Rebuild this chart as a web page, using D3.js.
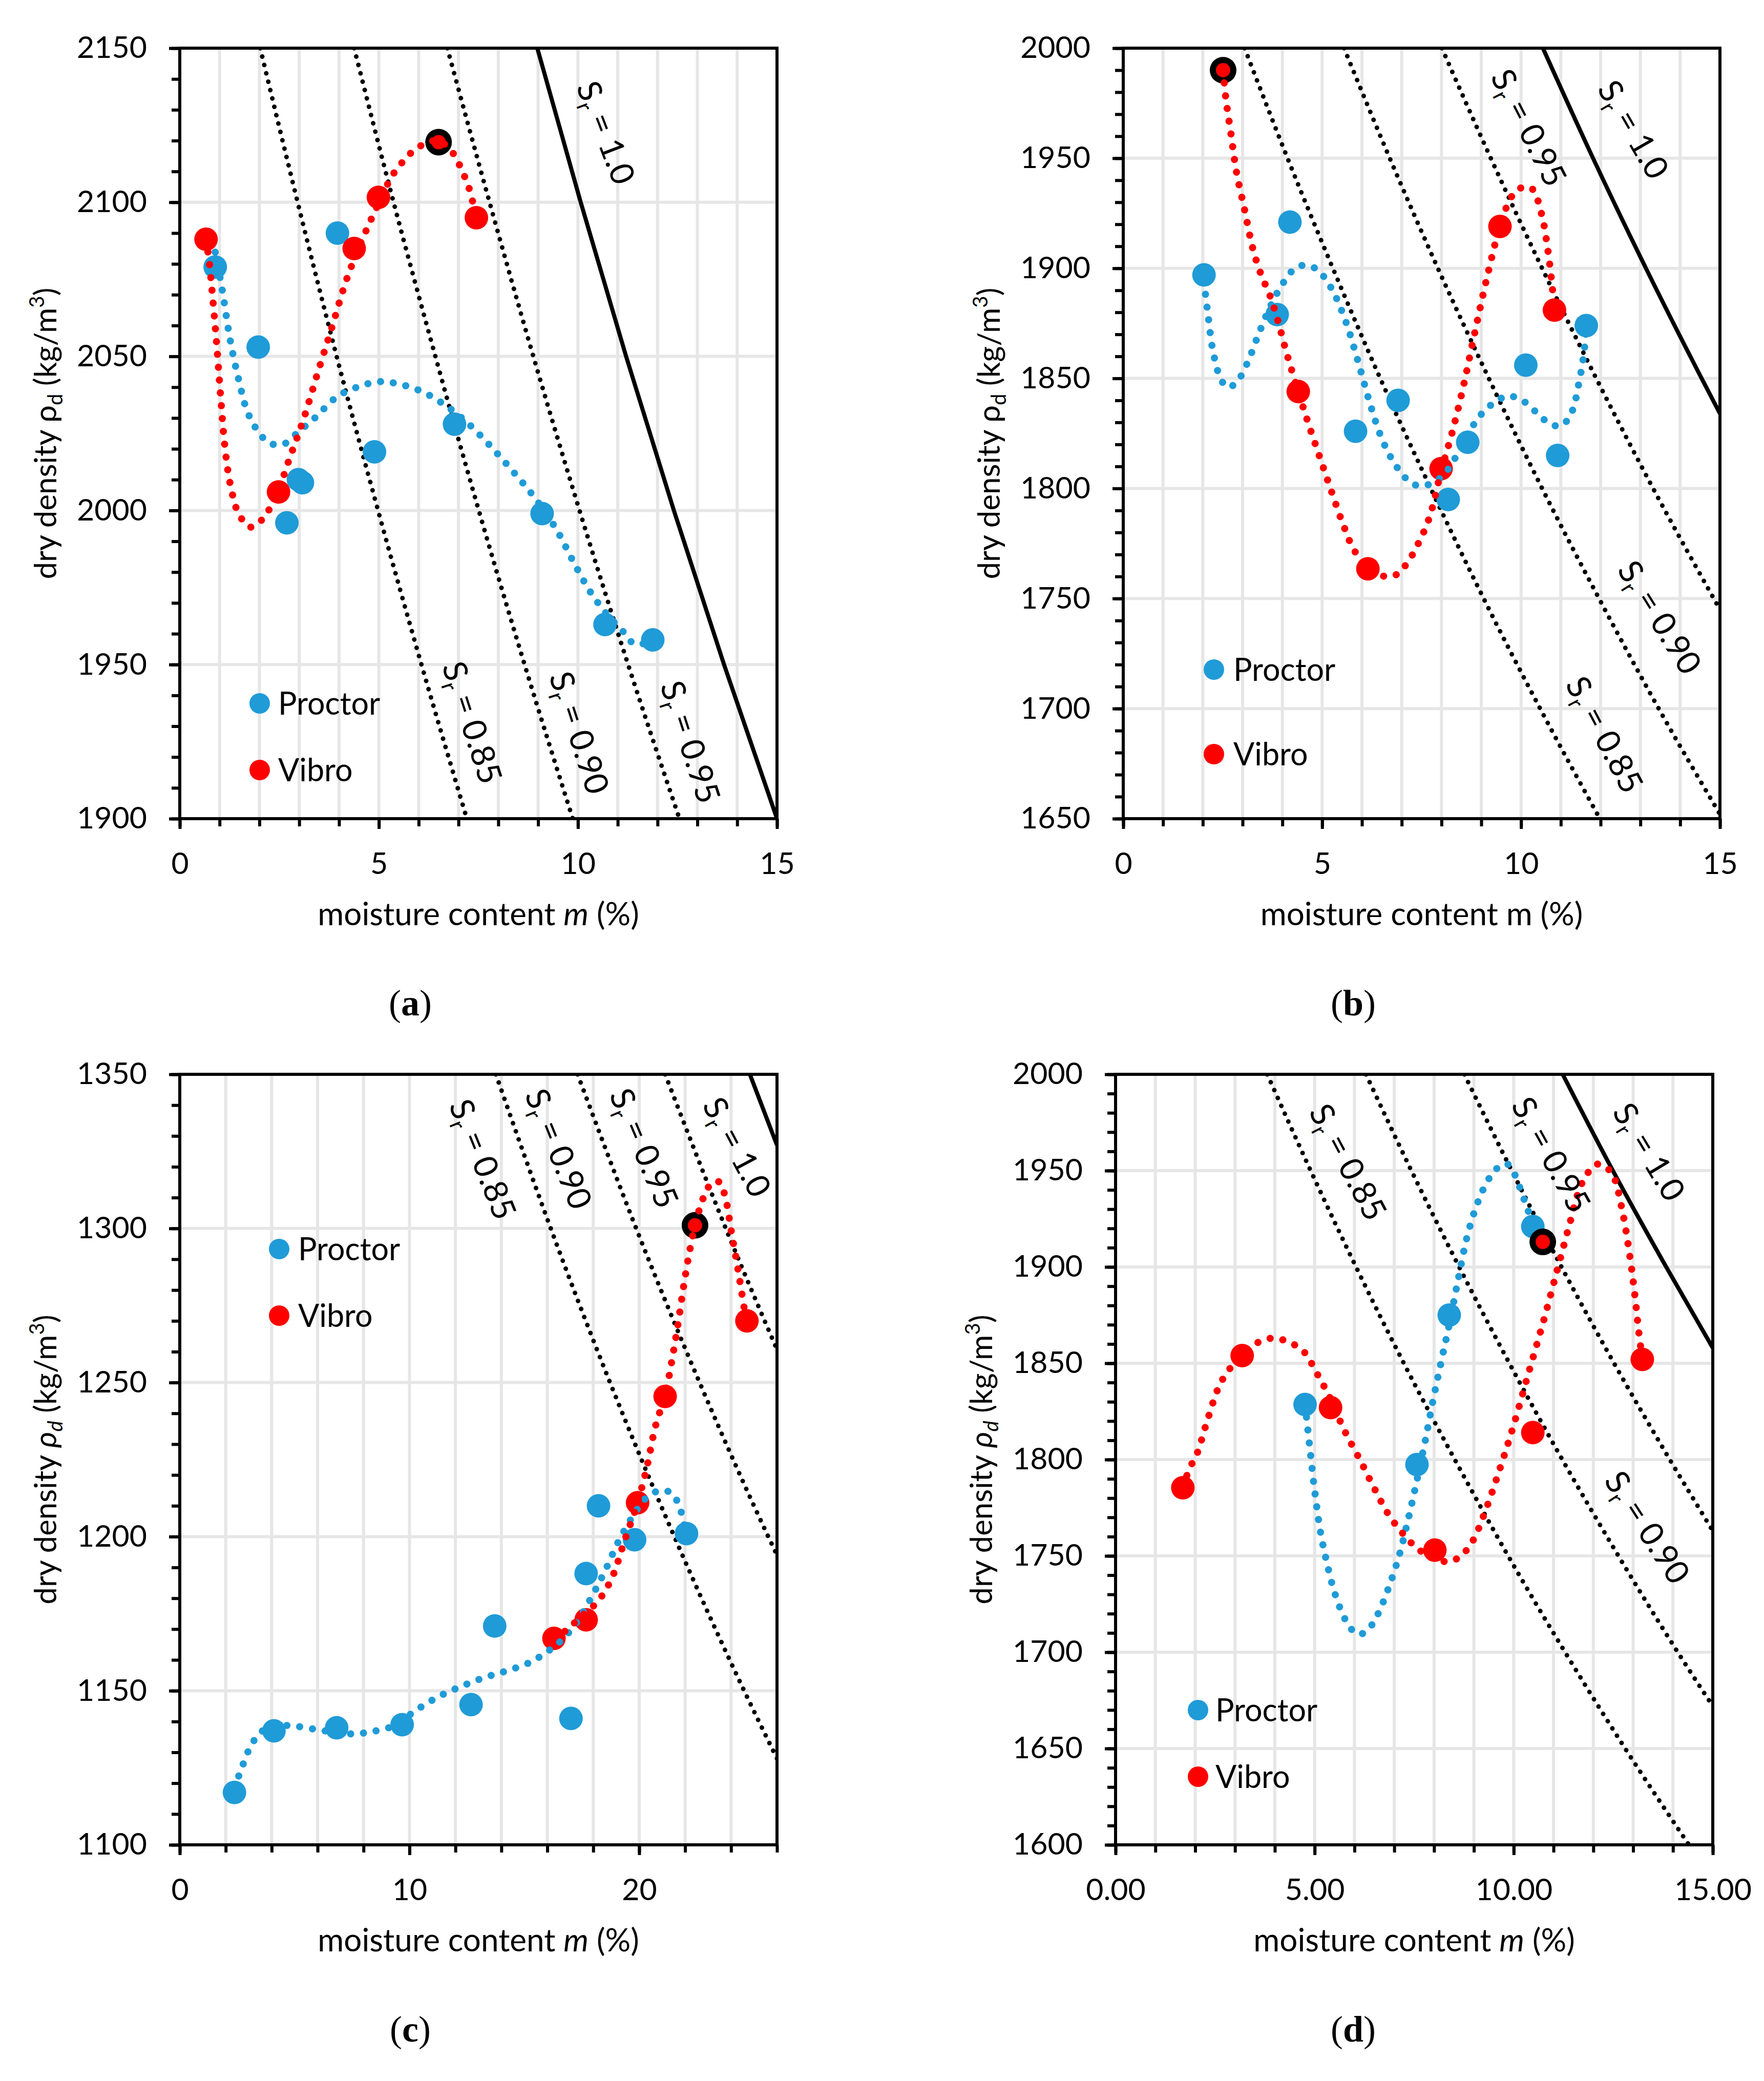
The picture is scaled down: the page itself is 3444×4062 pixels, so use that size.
<!DOCTYPE html>
<html>
<head>
<meta charset="utf-8">
<script src="https://cdn.jsdelivr.net/npm/d3@7"></script>
<style>
body { margin: 0; background: #fff; }
text { font-family: Lato, "Open Sans", "DejaVu Sans", sans-serif; fill: #000; }
</style>
</head>
<body>
<svg id="fig" width="3444" height="4062"></svg>
<script>
// ---------- values ----------
// (a)
var proctorA = [[0.89,2079],[1.97,2053],[3.96,2090],[2.98,2010],[3.08,2009],[2.69,1996],[4.89,2019],[6.9,2028],[9.1,1999],[10.68,1963],[11.88,1958]];
var vibroA   = [[0.66,2088],[2.48,2006],[4.38,2085],[4.99,2101.6],[6.5,2119.5],[7.45,2095]];
var optA     = [6.5,2119.5];
var trendProctorA = [[0.89,2083.8],[1.06,2072],[1.27,2055],[1.48,2042.4],[1.7,2032],[1.98,2025.4],[2.26,2021.8],[2.62,2021.6],[2.97,2025.4],[3.39,2030],[3.96,2037],[4.52,2040.3],[5.02,2041.8],[5.51,2041],[6.08,2038.6],[6.65,2034.3],[7.21,2028.6],[7.78,2021.2],[8.34,2013.1],[8.91,2004.2],[9.47,1993.6],[9.9,1983],[10.32,1973.4],[10.75,1966],[11.17,1960.2],[11.4,1956.8],[11.65,1956.8],[11.88,1958]];
var trendVibroA = [[0.66,2088],[0.74,2080.6],[0.82,2070],[0.92,2055],[1.02,2038],[1.13,2021],[1.27,2008.4],[1.48,1998.9],[1.77,1994.6],[2.05,1996.8],[2.4,2004.2],[2.76,2017],[3.11,2029.7],[3.46,2044.5],[3.82,2059.4],[4.17,2074.2],[4.52,2086],[4.88,2096.5],[5.32,2108.3],[5.51,2111.7],[5.72,2114.9],[5.96,2117.6],[6.24,2119.4],[6.5,2120],[6.81,2116.8],[6.98,2113.3],[7.11,2109.6],[7.23,2106],[7.35,2100.5],[7.45,2095]];
var srA085 = [[2.02,2150],[2.96,2100],[3.94,2050],[4.98,2000],[6.07,1950],[7.21,1900]];
var srA090 = [[4.38,2150],[5.37,2100],[6.42,2050],[7.51,2000],[8.66,1950],[9.87,1900]];
var srA095 = [[6.72,2150],[7.78,2100],[8.88,2050],[10.04,2000],[11.26,1950],[12.55,1900]];
var srA100 = [[8.98,2150],[10.07,2100],[11.21,2050],[12.41,2000],[13.67,1950],[15.0,1900]];
var srLabelsA = [["0.85",6.58,1949.5,72],["0.90",9.27,1946.2,72],["0.95",12.06,1943.2,72],["1.0",9.95,2137.5,69]];
var xTicksA = [0,5,10,15];
var yTicksA = [1900,1950,2000,2050,2100,2150];

// (b)
var proctorB = [[2.03,1897],[4.19,1921],[3.87,1879],[5.84,1826],[6.91,1840],[8.66,1821],[8.17,1795],[10.12,1856],[10.92,1815],[11.64,1874]];
var vibroB   = [[2.51,1990],[4.4,1844],[6.15,1763.5],[7.99,1809],[9.47,1919],[10.84,1881]];
var optB     = [2.51,1990];
var trendProctorB = [[2.03,1894],[2.13,1879],[2.27,1861],[2.46,1849.4],[2.62,1846],[2.84,1848],[3.12,1857],[3.4,1870],[3.68,1882],[3.99,1892.5],[4.32,1900],[4.6,1901.4],[4.88,1899.3],[5.23,1891],[5.59,1876],[5.94,1855.3],[6.22,1837.5],[6.5,1822.6],[6.79,1812.2],[7.14,1804],[7.42,1801.2],[7.77,1802.4],[8.06,1806.3],[8.34,1813.7],[8.69,1825.6],[9.04,1834.5],[9.4,1839.9],[9.68,1842],[10.03,1840],[10.39,1834.5],[10.74,1829.2],[11.02,1828.6],[11.27,1834.5],[11.47,1849.4],[11.58,1861.3],[11.64,1873]];
var trendVibroB = [[2.51,1990],[2.58,1977],[2.7,1962],[2.84,1944.4],[3.05,1926.6],[3.26,1908.8],[3.47,1896.9],[3.68,1888],[3.89,1876],[4.11,1861.3],[4.4,1844],[4.67,1828.6],[4.95,1813.7],[5.23,1798.9],[5.52,1784],[5.8,1772.1],[6.15,1763.8],[6.5,1760.3],[6.86,1760.8],[7.14,1766.2],[7.42,1775.1],[7.7,1787],[7.99,1807.8],[8.27,1825.6],[8.55,1846.4],[8.83,1870.2],[9.12,1894],[9.47,1919.2],[9.68,1929.6],[9.89,1935.5],[10.17,1937],[10.31,1935.5],[10.53,1923.6],[10.67,1908.8],[10.77,1894],[10.84,1881.2]];
var srB085 = [[3.05,2000],[4.13,1950],[5.27,1900],[6.46,1850],[7.73,1800],[9.06,1750],[10.48,1700],[11.98,1650]];
var srB090 = [[5.55,2000],[6.7,1950],[7.91,1900],[9.19,1850],[10.53,1800],[11.96,1750],[13.46,1700],[15.0,1652]];
var srB095 = [[8.01,2000],[9.24,1950],[10.53,1900],[11.89,1850],[13.32,1800],[15.0,1745]];
var srB100 = [[10.55,2000],[11.81,1950],[13.14,1900],[14.54,1850],[15.0,1834]];
var srLabelsB = [["0.95",9.22,1987,63],["1.0",11.9,1981.5,60],["0.90",12.4,1763,58],["0.85",11.1,1711,62]];
var xTicksB = [0,5,10,15];
var yTicksB = [1650,1700,1750,1800,1850,1900,1950,2000];

// (c)
var proctorC = [[2.38,1117],[4.1,1137],[6.83,1138],[9.68,1139],[12.68,1145.5],[13.71,1171],[17.03,1141],[17.69,1188],[18.23,1210],[19.8,1199],[22.06,1201]];
var vibroC   = [[16.29,1167],[17.69,1173],[19.93,1211],[21.13,1245.5],[22.43,1301],[24.69,1270]];
var optC     = [22.43,1301];
var trendProctorC = [[2.38,1118.4],[2.7,1125],[3.06,1131.6],[3.55,1136.7],[4.17,1138.6],[4.9,1138.6],[5.88,1137.5],[6.86,1136.4],[7.6,1136],[8.33,1136.7],[9.31,1138.6],[10.29,1143.7],[11.27,1148.1],[12.25,1151.4],[13.23,1154.2],[14.21,1156.4],[15.19,1159],[15.93,1162.3],[16.66,1166.7],[17.28,1172.2],[17.89,1179.9],[18.5,1188.7],[19.11,1198.6],[19.73,1206.7],[20.34,1212.8],[20.95,1215],[21.44,1213.9],[21.81,1208.4],[22.0,1202]];
var trendVibroC = [[16.29,1167],[16.9,1170],[17.45,1174],[17.89,1176.6],[18.4,1181],[18.87,1187.6],[19.36,1198.6],[19.93,1211],[20.34,1222.7],[20.71,1235.9],[21.13,1246],[21.44,1257.8],[21.69,1269],[21.93,1281],[22.18,1292],[22.43,1301],[22.7,1308],[22.95,1312.6],[23.2,1315],[23.5,1315],[23.77,1309.4],[24.0,1299.5],[24.26,1288.5],[24.45,1279.8],[24.66,1270]];
var srC085 = [[13.76,1350],[16.15,1300],[18.73,1250],[21.53,1200],[24.57,1150],[26,1128]];
var srC090 = [[17.32,1350],[19.87,1300],[22.63,1250],[25.62,1200],[26,1194]];
var srC095 = [[21.13,1350],[23.77,1300],[26,1260.7]];
var srC100 = [[24.82,1350],[26,1327]];
var srLabelsC = [["0.85",11.7,1340,68],["0.90",15.0,1343.4,68],["0.95",18.68,1343.4,67],["1.0",22.72,1340,62]];
var xTicksC = [0,10,20];
var yTicksC = [1100,1150,1200,1250,1300,1350];

// (d)
var proctorD = [[4.76,1828.6],[7.57,1797.4],[8.38,1875],[10.48,1921]];
var vibroD   = [[1.69,1785.4],[3.18,1854],[5.4,1827],[8.02,1753],[10.48,1814],[10.73,1913],[13.23,1852]];
var optD     = [10.73,1913];
var trendProctorD = [[4.76,1828.6],[4.88,1806],[5.01,1782.3],[5.15,1762],[5.3,1747.1],[5.5,1731],[5.72,1719],[5.92,1712],[6.12,1709.2],[6.35,1712],[6.57,1719],[6.85,1733],[7.13,1750.7],[7.35,1769],[7.57,1789.3],[7.78,1810],[7.98,1831.4],[8.18,1851],[8.38,1870],[8.6,1893],[8.83,1915.7],[9.07,1932],[9.32,1943.8],[9.57,1951],[9.82,1953.6],[10.0,1949],[10.17,1940.3],[10.33,1931],[10.48,1922.7]];
var trendVibroD = [[1.69,1785.4],[1.85,1795],[2.05,1803.3],[2.3,1820],[2.61,1838.5],[2.9,1848],[3.18,1853.9],[3.55,1860.5],[3.95,1863],[4.35,1861],[4.73,1856],[5.05,1845],[5.4,1831.4],[5.75,1815],[6.14,1799.8],[6.5,1785],[6.85,1771.7],[7.2,1762],[7.56,1754.2],[8.0,1748.5],[8.4,1747.1],[8.7,1750.5],[8.97,1757.7],[9.3,1774],[9.67,1796.3],[10.0,1818],[10.38,1845.5],[10.75,1872],[11.09,1898.2],[11.4,1922],[11.65,1940.3],[11.85,1948.5],[12.08,1953.3],[12.3,1952],[12.5,1947.3],[12.72,1930],[12.92,1905.2],[13.05,1884],[13.14,1866.5],[13.23,1852.1]];
var srD085 = [[3.81,2000],[4.9,1950],[6.04,1900],[7.24,1850],[8.52,1800],[9.86,1750],[11.29,1700],[12.8,1650],[14.4,1600]];
var srD090 = [[6.29,2000],[7.43,1950],[8.63,1900],[9.89,1850],[11.22,1800],[12.63,1750],[14.12,1700],[15.0,1672]];
var srD095 = [[8.76,2000],[9.95,1950],[11.2,1900],[12.52,1850],[13.92,1800],[15.0,1763]];
var srD100 = [[11.23,2000],[12.49,1950],[13.83,1900],[15.0,1858]];
var srLabelsD = [["0.85",4.84,1980.5,62],["0.95",9.92,1984,61],["1.0",12.46,1980.5,59],["0.90",12.25,1789,57]];
var xTicksD = [0,5,10,15];
var yTicksD = [1600,1650,1700,1750,1800,1850,1900,1950,2000];

var legendNames = ["Proctor", "Vibro"];

// ---------- styling ----------
var BLUE = '#1f9bd7', RED = '#ff0000', GRID = '#e6e6e6';

var svg = d3.select('#fig');
svg.append('rect').attr('width', 3444).attr('height', 4062).attr('fill', '#fff');

function drawPanel(p) {
    var f = p.frame;
    var x = d3.scaleLinear().domain(p.xDomain).range([f.x0, f.x1]);
    var y = d3.scaleLinear().domain([p.yTicks[0], p.yTicks[p.yTicks.length - 1]]).range([f.y1, f.y0]);
    var g = svg.append('g');

    svg.append('clipPath').attr('id', 'clip' + p.id)
        .append('rect')
        .attr('x', f.x0).attr('y', f.y0)
        .attr('width', f.x1 - f.x0).attr('height', f.y1 - f.y0);

    // gridlines
    var xMinor = d3.range(p.xDomain[0], p.xDomain[1] + 0.001, p.xMinorStep);
    var yMinor = d3.range(p.yTicks[0], p.yTicks[p.yTicks.length - 1] + 0.001, 10);
    g.append('g').selectAll('line')
        .data(xMinor.filter(function(d) { return d > p.xDomain[0] && d < p.xDomain[1]; }))
        .join('line')
        .attr('x1', function(d) { return x(d); }).attr('x2', function(d) { return x(d); })
        .attr('y1', f.y0).attr('y2', f.y1)
        .attr('stroke', GRID).attr('stroke-width', 6);
    g.append('g').selectAll('line')
        .data(p.yTicks.slice(1, -1))
        .join('line')
        .attr('y1', function(d) { return y(d); }).attr('y2', function(d) { return y(d); })
        .attr('x1', f.x0).attr('x2', f.x1)
        .attr('stroke', GRID).attr('stroke-width', 6);

    // saturation lines
    var line = d3.line().x(function(d) { return x(d[0]); }).y(function(d) { return y(d[1]); });
    var srg = g.append('g').attr('clip-path', 'url(#clip' + p.id + ')');
    p.srDotted.forEach(function(arr) {
        srg.append('path')
            .attr('d', line.curve(d3.curveMonotoneX)(arr))
            .attr('fill', 'none').attr('stroke', '#000')
            .attr('stroke-width', 9).attr('stroke-linecap', 'round')
            .attr('stroke-dasharray', '0.1 16.7');
    });
    srg.append('path')
        .attr('d', line.curve(d3.curveMonotoneX)(p.srSolid))
        .attr('fill', 'none').attr('stroke', '#000').attr('stroke-width', 8);

    // markers
    g.append('g').selectAll('circle').data(p.proctor).join('circle')
        .attr('cx', function(d) { return x(d[0]); }).attr('cy', function(d) { return y(d[1]); })
        .attr('r', 23).attr('fill', BLUE);
    g.append('g').selectAll('circle').data(p.vibro).join('circle')
        .attr('cx', function(d) { return x(d[0]); }).attr('cy', function(d) { return y(d[1]); })
        .attr('r', 23).attr('fill', RED);
    g.append('circle').attr('cx', x(p.opt[0])).attr('cy', y(p.opt[1])).attr('r', 26).attr('fill', '#000');
    g.append('circle').attr('cx', x(p.opt[0])).attr('cy', y(p.opt[1])).attr('r', 14).attr('fill', RED);

    // trend lines (dotted)
    [[p.trendProctor, BLUE], [p.trendVibro, RED]].forEach(function(t) {
        g.append('path')
            .attr('d', line.curve(d3.curveCatmullRom.alpha(0.5))(t[0]))
            .attr('fill', 'none').attr('stroke', t[1])
            .attr('stroke-width', 14).attr('stroke-linecap', 'round')
            .attr('stroke-dasharray', '0.1 25');
    });

    // Sr labels
    p.srLabels.forEach(function(l) {
        var t = g.append('text')
            .attr('transform', 'translate(' + x(l[1]) + ',' + y(l[2]) + ') rotate(' + l[3] + ')')
            .attr('font-size', 64);
        t.append('tspan').text('S');
        t.append('tspan').attr('font-size', 42).attr('dy', 13).text('r');
        t.append('tspan').attr('dy', -13).text('\u00a0=\u00a0' + l[0]);
    });

    // legend
    [BLUE, RED].forEach(function(c, i) {
        var ly = p.legend.y[i];
        g.append('circle').attr('cx', p.legend.x).attr('cy', ly).attr('r', 20).attr('fill', c);
        g.append('text').attr('x', p.legend.tx).attr('y', ly).attr('dy', '0.36em')
            .attr('font-size', 61).text(legendNames[i]);
    });

    // frame
    g.append('rect').attr('x', f.x0).attr('y', f.y0)
        .attr('width', f.x1 - f.x0).attr('height', f.y1 - f.y0)
        .attr('fill', 'none').attr('stroke', '#000').attr('stroke-width', 6);

    // axes
    var fmt = p.xFormat ? d3.format(p.xFormat) : d3.format('d');
    var xa = g.append('g').attr('transform', 'translate(0,' + f.y1 + ')')
        .call(d3.axisBottom(x).tickValues(p.xTicks).tickSize(20).tickPadding(46).tickFormat(fmt));
    var xm = g.append('g').attr('transform', 'translate(0,' + f.y1 + ')')
        .call(d3.axisBottom(x).tickValues(xMinor).tickSize(15).tickFormat(''));
    var ya = g.append('g').attr('transform', 'translate(' + f.x0 + ',0)')
        .call(d3.axisLeft(y).tickValues(p.yTicks).tickSize(21).tickPadding(43).tickFormat(d3.format('d')));
    var ym = g.append('g').attr('transform', 'translate(' + f.x0 + ',0)')
        .call(d3.axisLeft(y).tickValues(yMinor).tickSize(16).tickFormat(''));
    [xa, xm, ya, ym].forEach(function(a) {
        a.select('.domain').remove();
        a.selectAll('line').attr('stroke', '#000').attr('stroke-width', 6);
        a.selectAll('text').attr('font-size', 59).attr('font-family', 'Lato, "Open Sans", sans-serif').attr('fill', '#000');
    });

    // x title
    var xt = g.append('text').attr('x', (f.x0 + f.x1) / 2).attr('y', f.y1 + 208)
        .attr('text-anchor', 'middle').attr('font-size', 62);
    xt.append('tspan').text('moisture content ');
    xt.append('tspan').attr('font-style', p.italic ? 'italic' : 'normal').text('m');
    xt.append('tspan').text(' (%)');

    // y title
    var yt = g.append('text')
        .attr('transform', 'translate(' + (f.x0 - 241) + ',' + ((f.y0 + f.y1) / 2) + ') rotate(-90)')
        .attr('text-anchor', 'middle').attr('font-size', 60);
    yt.append('tspan').text('dry density ');
    yt.append('tspan').attr('font-style', p.italicRho ? 'italic' : 'normal').text('\u03c1');
    yt.append('tspan').attr('font-style', p.italicRho ? 'italic' : 'normal').attr('font-size', 40).attr('dy', 12).text('d');
    yt.append('tspan').attr('dy', -12).text(' (kg/m');
    yt.append('tspan').attr('font-size', 40).attr('dy', -24).text('3');
    yt.append('tspan').attr('dy', 24).text(')');

    // panel label
    var pl = g.append('text').attr('x', p.labelX).attr('y', f.y1 + 384)
        .attr('text-anchor', 'middle').attr('font-size', 72)
        .style('font-family', '"Liberation Serif", "DejaVu Serif", serif');
    pl.append('tspan').text('(');
    pl.append('tspan').attr('font-weight', 'bold').text(p.id);
    pl.append('tspan').text(')');
}

drawPanel({
    id: 'a', frame: {x0: 351, x1: 1517, y0: 94, y1: 1598},
    xDomain: [0, 15], xTicks: xTicksA, xMinorStep: 1, yTicks: yTicksA,
    proctor: proctorA, vibro: vibroA, opt: optA,
    trendProctor: trendProctorA, trendVibro: trendVibroA,
    srDotted: [srA085, srA090, srA095], srSolid: srA100, srLabels: srLabelsA,
    legend: {x: 507, tx: 543, y: [1373, 1503]},
    italic: true, italicRho: false, labelX: 801
});
drawPanel({
    id: 'b', frame: {x0: 2193, x1: 3358, y0: 94, y1: 1598},
    xDomain: [0, 15], xTicks: xTicksB, xMinorStep: 1, yTicks: yTicksB,
    proctor: proctorB, vibro: vibroB, opt: optB,
    trendProctor: trendProctorB, trendVibro: trendVibroB,
    srDotted: [srB085, srB090, srB095], srSolid: srB100, srLabels: srLabelsB,
    legend: {x: 2370, tx: 2408, y: [1307, 1472]},
    italic: false, italicRho: false, labelX: 2642
});
drawPanel({
    id: 'c', frame: {x0: 351, x1: 1517, y0: 2097, y1: 3601},
    xDomain: [0, 26], xTicks: xTicksC, xMinorStep: 2, yTicks: yTicksC,
    proctor: proctorC, vibro: vibroC, opt: optC,
    trendProctor: trendProctorC, trendVibro: trendVibroC,
    srDotted: [srC085, srC090, srC095], srSolid: srC100, srLabels: srLabelsC,
    legend: {x: 545, tx: 582, y: [2438, 2568]},
    italic: true, italicRho: true, labelX: 801
});
drawPanel({
    id: 'd', frame: {x0: 2178, x1: 3344, y0: 2097, y1: 3601},
    xDomain: [0, 15], xTicks: xTicksD, xMinorStep: 1, yTicks: yTicksD, xFormat: '.2f',
    proctor: proctorD, vibro: vibroD, opt: optD,
    trendProctor: trendProctorD, trendVibro: trendVibroD,
    srDotted: [srD085, srD090, srD095], srSolid: srD100, srLabels: srLabelsD,
    legend: {x: 2339, tx: 2373, y: [3338, 3468]},
    italic: true, italicRho: true, labelX: 2642
});
</script>
</body>
</html>
